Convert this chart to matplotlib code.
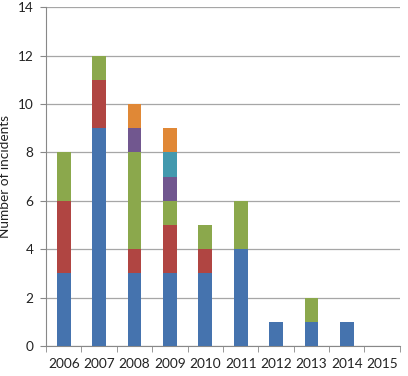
import numpy as np
import matplotlib
matplotlib.use("Agg")
import matplotlib.pyplot as plt

plt.rcParams["font.family"] = ["Lato", "DejaVu Sans"]

# --- Data ---
years = ["2006", "2007", "2008", "2009", "2010", "2011", "2012", "2013", "2014", "2015"]
blue = [3, 9, 3, 3, 3, 4, 1, 1, 1, 0]
red = [3, 2, 1, 2, 1, 0, 0, 0, 0, 0]
green = [2, 1, 4, 1, 1, 2, 0, 1, 0, 0]
purple = [0, 0, 1, 1, 0, 0, 0, 0, 0, 0]
cyan = [0, 0, 0, 1, 0, 0, 0, 0, 0, 0]
orange = [0, 0, 1, 1, 0, 0, 0, 0, 0, 0]

series = [blue, red, green, purple, cyan, orange]
colors = ["#4573AE", "#B04542", "#8BA84C", "#71578F", "#4399AE", "#E08836"]

# --- Plot ---
fig = plt.figure(figsize=(4.08, 3.76), dpi=100)
ax = fig.add_axes([0.113, 0.080, 0.867, 0.901])

x = np.arange(len(years))
bottom = np.zeros(len(years))
for vals, c in zip(series, colors):
    ax.bar(x, vals, width=0.39, bottom=bottom, color=c, zorder=3)
    bottom += np.array(vals)

ax.set_xlim(-0.5, len(years) - 0.5)
ax.set_ylim(0, 14)
ax.set_yticks(range(0, 15, 2))
ax.set_xticks(x)
ax.set_xticklabels(years)
ax.set_xticks(np.arange(-0.5, len(years)), minor=True)
ax.tick_params(axis="x", which="major", length=0, pad=9, labelsize=9.8, colors="#222222")
ax.tick_params(axis="x", which="minor", length=4, color="#888888")
ax.tick_params(axis="y", length=4, color="#888888", labelsize=9.8, colors="#222222", pad=5)

ax.yaxis.grid(True, color="#A6A6A6", linewidth=0.9, zorder=0)
for s in ["top", "right"]:
    ax.spines[s].set_visible(False)
ax.spines["left"].set_color("#888888")
ax.spines["bottom"].set_color("#888888")

ax.set_ylabel("Number of incidents", fontsize=9.8, color="#222222")
ax.yaxis.set_label_coords(-0.1, 0.5)

plt.savefig("out.png", dpi=100)
